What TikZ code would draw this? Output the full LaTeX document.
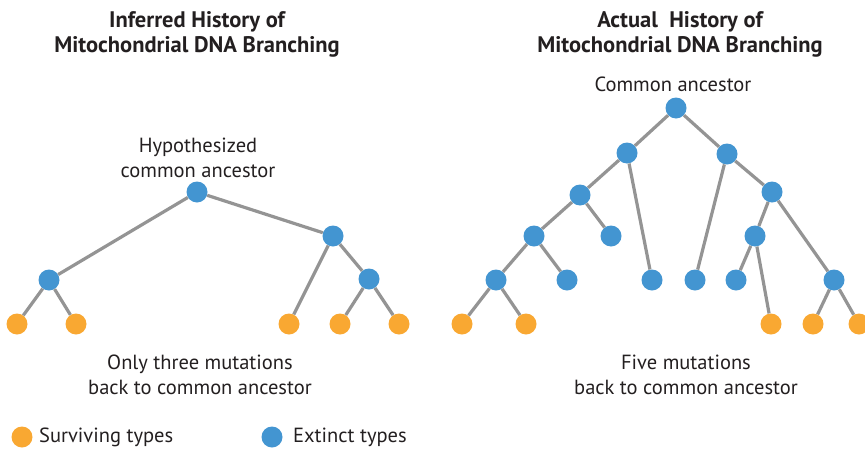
\documentclass[tikz,border=0pt]{standalone}
\usepackage{fontspec}
\setmainfont{PT Sans}
\definecolor{extinctblue}{HTML}{4395D1}
\definecolor{survorange}{HTML}{F9A832}
\definecolor{branchgray}{HTML}{949494}
\definecolor{ink}{HTML}{231F20}
\tikzset{
  extinct/.style={circle, fill=extinctblue, minimum size=21pt, inner sep=0pt},
  surviving/.style={circle, fill=survorange, minimum size=21pt, inner sep=0pt},
  branch/.style={draw=branchgray, line width=3.2pt},
  heading/.style={font=\bfseries\fontsize{22.5}{25}\selectfont, align=center, text=ink},
  caption/.style={font=\fontsize{20.5}{25}\selectfont, align=center, text=ink}
}
\begin{document}
\begin{tikzpicture}[x=1pt, y=-1pt]
\useasboundingbox (0,0) rectangle (865,450);
% headings
\node[heading] (titleL) at (197,34) {Inferred History of\\Mitochondrial DNA Branching};
\node[heading] (titleR) at (680,34) {Actual\ \ History of\\Mitochondrial DNA Branching};
\node[caption] (ancR) at (673,84) {Common ancestor};
\node[caption] (ancL) at (198,158) {Hypothesized\\common ancestor};
\node[caption] (noteL) at (200,375) {Only three mutations\\back to common ancestor};
\node[caption] (noteR) at (686,375) {Five mutations\\back to common ancestor};

% inferred tree
\node[extinct] (l0) at (197,192) {};
\node[extinct] (l1) at (49,280) {};
\node[extinct] (l2) at (333,236) {};
\node[extinct] (l3) at (369,279) {};
\node[surviving] (ls1) at (17,324) {};
\node[surviving] (ls2) at (76,324) {};
\node[surviving] (ls3) at (289,324) {};
\node[surviving] (ls4) at (340,324) {};
\node[surviving] (ls5) at (399,324) {};
\foreach \a/\b in {l0/l1, l0/l2, l1/ls1, l1/ls2, l2/ls3, l2/l3, l3/ls4, l3/ls5}
  \draw[branch] (\a) -- (\b);

% actual tree
\node[extinct] (r0) at (676,108) {};
\node[extinct] (ra) at (627,153) {};
\node[extinct] (rb) at (727,154) {};
\node[extinct] (ra1) at (580,195) {};
\node[extinct] (rb1) at (772,192) {};
\node[extinct] (ra2) at (534,236) {};
\node[extinct] (rx1) at (611,236) {};
\node[extinct] (ra3) at (496,280) {};
\node[extinct] (rx2) at (567,280) {};
\node[extinct] (rx3) at (652,280) {};
\node[extinct] (rx4) at (695,280) {};
\node[extinct] (rb2) at (755,236) {};
\node[extinct] (rx5) at (736,280) {};
\node[extinct] (rb3) at (834,280) {};
\node[surviving] (rs1) at (462,324) {};
\node[surviving] (rs2) at (526,324) {};
\node[surviving] (rs3) at (771,324) {};
\node[surviving] (rs4) at (813,324) {};
\node[surviving] (rs5) at (859,324) {};
\foreach \a/\b in {r0/ra, r0/rb, ra/ra1, ra/rx3, rb/rx4, rb/rb1,
                   ra1/ra2, ra1/rx1, ra2/ra3, ra2/rx2, ra3/rs1, ra3/rs2,
                   rb1/rb2, rb1/rb3, rb2/rx5, rb2/rs3, rb3/rs4, rb3/rs5}
  \draw[branch] (\a) -- (\b);

% legend
\node[surviving] (keyS) at (22,437) {};
\node[caption, anchor=west, inner sep=0pt] (keySt) at (39,437) {Surviving types};
\node[extinct] (keyE) at (272,437) {};
\node[caption, anchor=west, inner sep=0pt] (keyEt) at (293,437) {Extinct types};
\end{tikzpicture}
\end{document}
